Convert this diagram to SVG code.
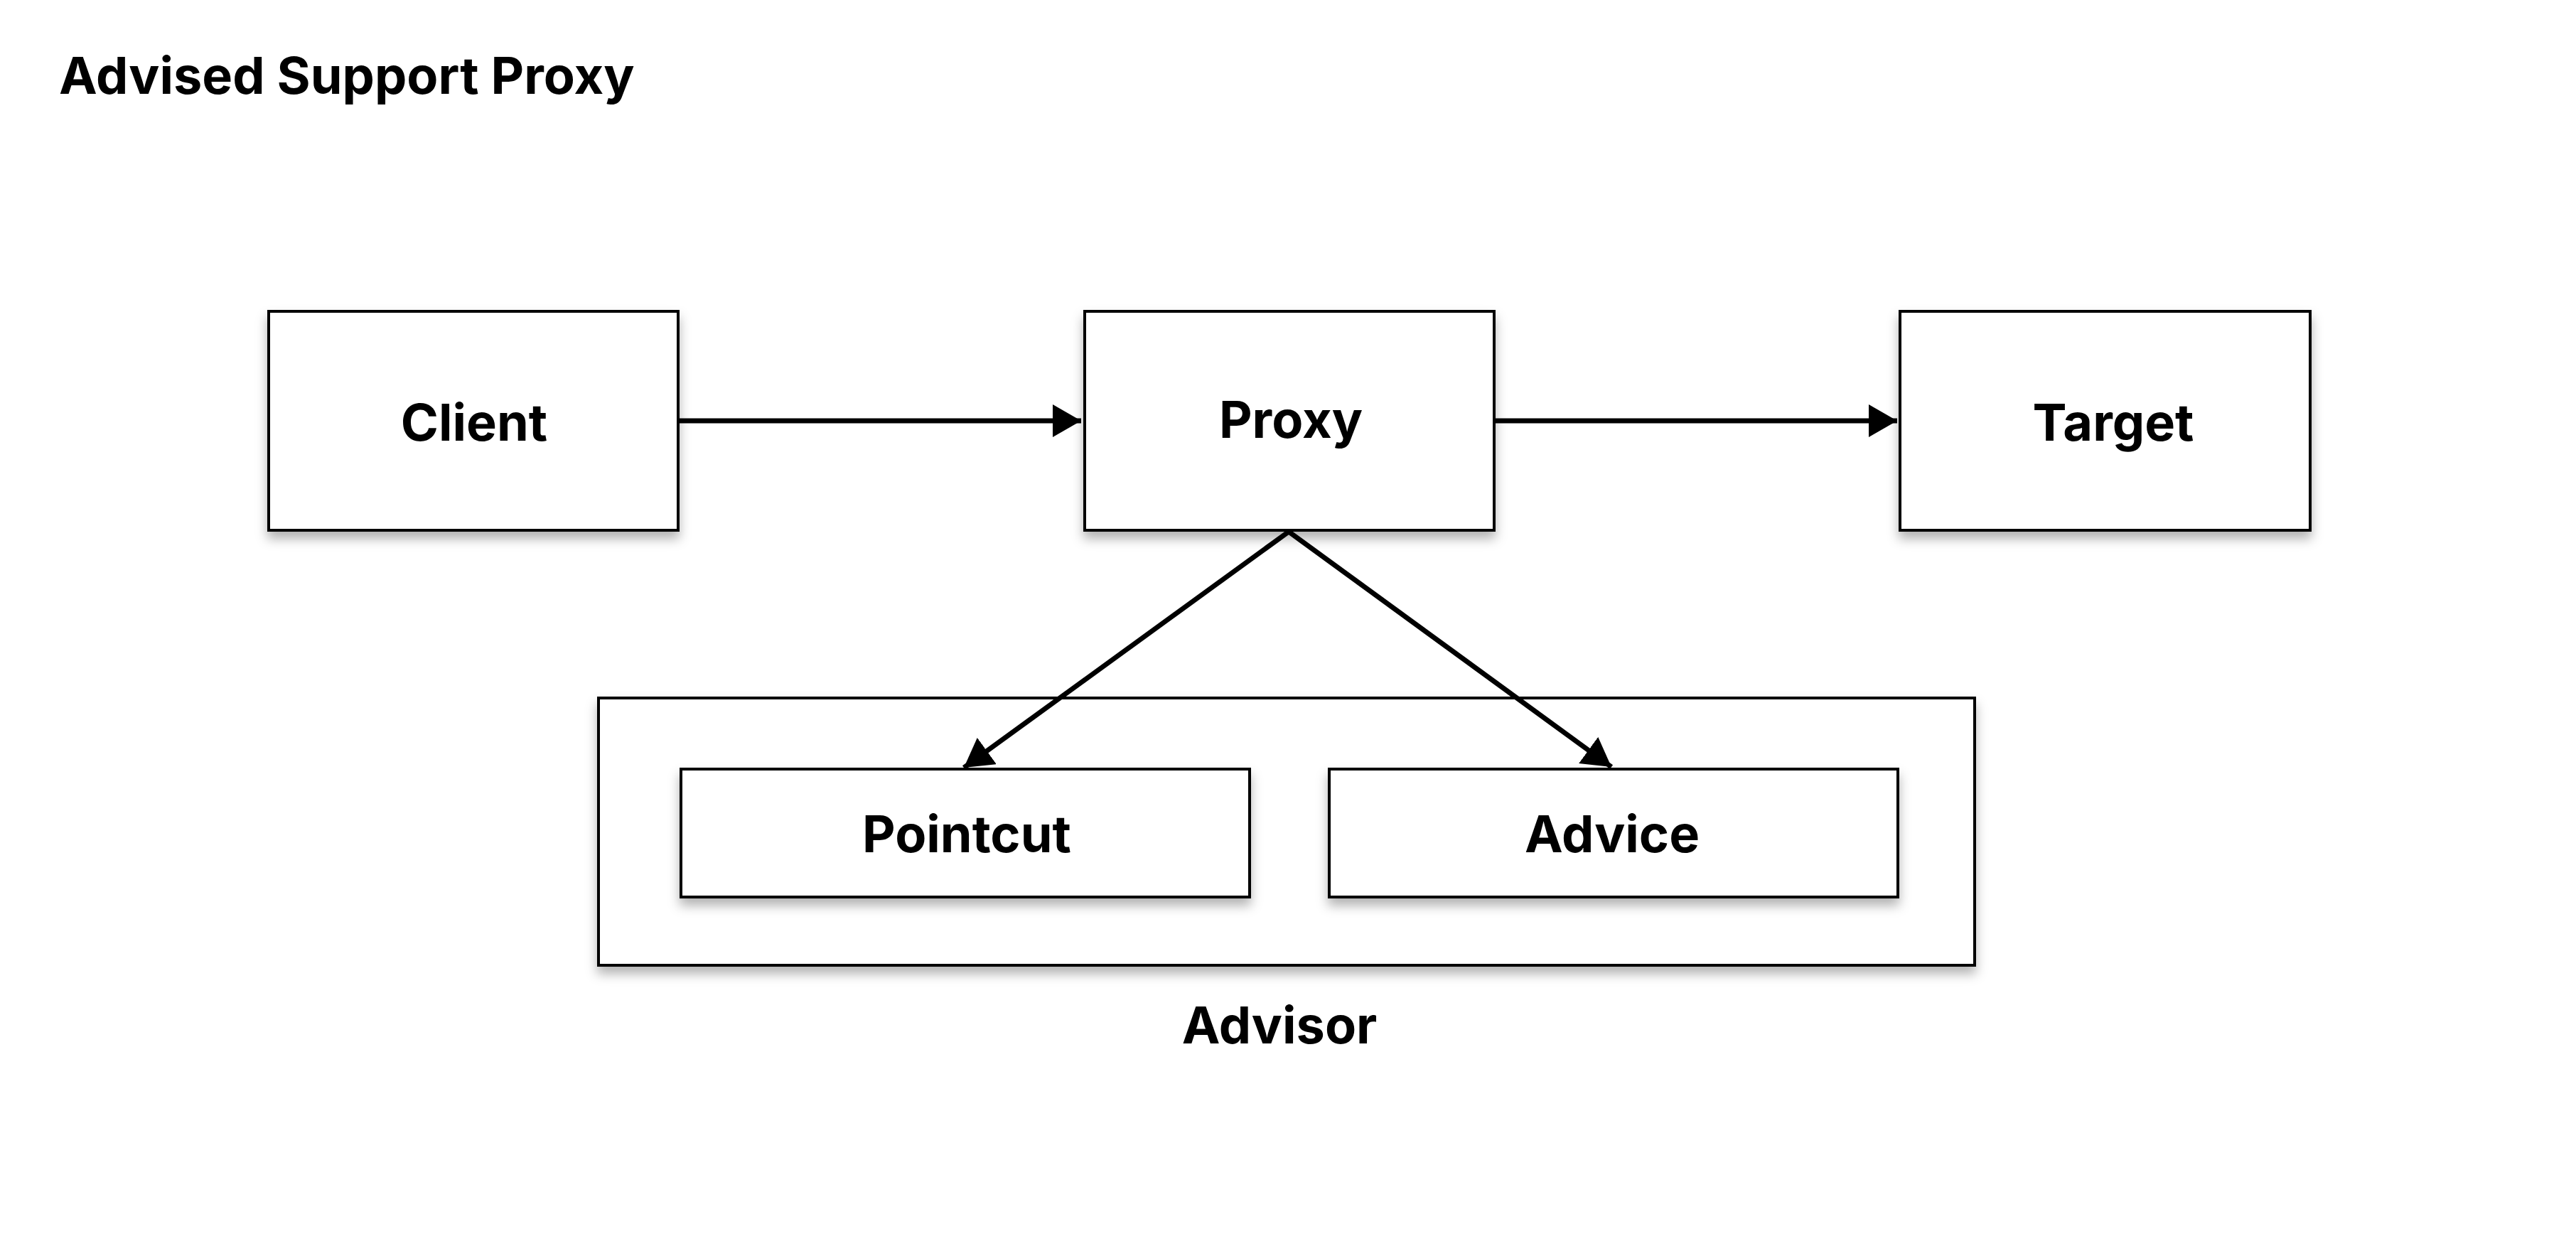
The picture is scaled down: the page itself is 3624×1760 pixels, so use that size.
<svg xmlns="http://www.w3.org/2000/svg" width="3624" height="1760" viewBox="0 0 3624 1760">
<style>
.box{fill:#fff;stroke:#000;stroke-width:4;filter:url(#sh)}
.lbl{font-family:Inter,"Liberation Sans",sans-serif;font-weight:700;font-size:72px;fill:#000;text-anchor:middle}
.edge{stroke:#000;stroke-width:7;fill:none;marker-end:url(#ah)}
</style>
<defs>
<filter id="sh" x="-10%" y="-10%" width="120%" height="140%">
<feDropShadow dx="0" dy="10" stdDeviation="8" flood-color="#000" flood-opacity="0.3"/>
</filter>
<marker id="ah" markerUnits="userSpaceOnUse" markerWidth="40" markerHeight="46" refX="40" refY="23" orient="auto" viewBox="0 0 40 46">
<path d="M0,0 L40,23 L0,46 Z" fill="#000"/>
</marker>
</defs>
<rect width="3624" height="1760" fill="#fff"/>
<text x="83" y="132" font-family="Inter,'Liberation Sans',sans-serif" font-weight="700" font-size="72">Advised Support Proxy</text>
<g id="advisor">
<rect class="box" x="842" y="982" width="1936" height="376"/>
<text class="lbl" x="1800" y="1468">Advisor</text>
</g>
<g id="client">
<rect class="box" x="378" y="438" width="576" height="308"/>
<text class="lbl" x="667" y="620">Client</text>
</g>
<g id="proxy">
<rect class="box" x="1526" y="438" width="576" height="308"/>
<text class="lbl" x="1816" y="616">Proxy</text>
</g>
<g id="target">
<rect class="box" x="2673" y="438" width="577" height="308"/>
<text class="lbl" x="2973" y="620">Target</text>
</g>
<g id="pointcut">
<rect class="box" x="958" y="1082" width="800" height="180"/>
<text class="lbl" x="1360" y="1199">Pointcut</text>
</g>
<g id="advice">
<rect class="box" x="1870" y="1082" width="800" height="180"/>
<text class="lbl" x="2268" y="1199">Advice</text>
</g>
<g id="connectors">
<line class="edge" x1="956" y1="592" x2="1521" y2="592"/>
<line class="edge" x1="2104" y1="592" x2="2669" y2="592"/>
<line class="edge" x1="1813" y1="748" x2="1356" y2="1080"/>
<line class="edge" x1="1813" y1="748" x2="2267" y2="1079"/>
</g>
</svg>
